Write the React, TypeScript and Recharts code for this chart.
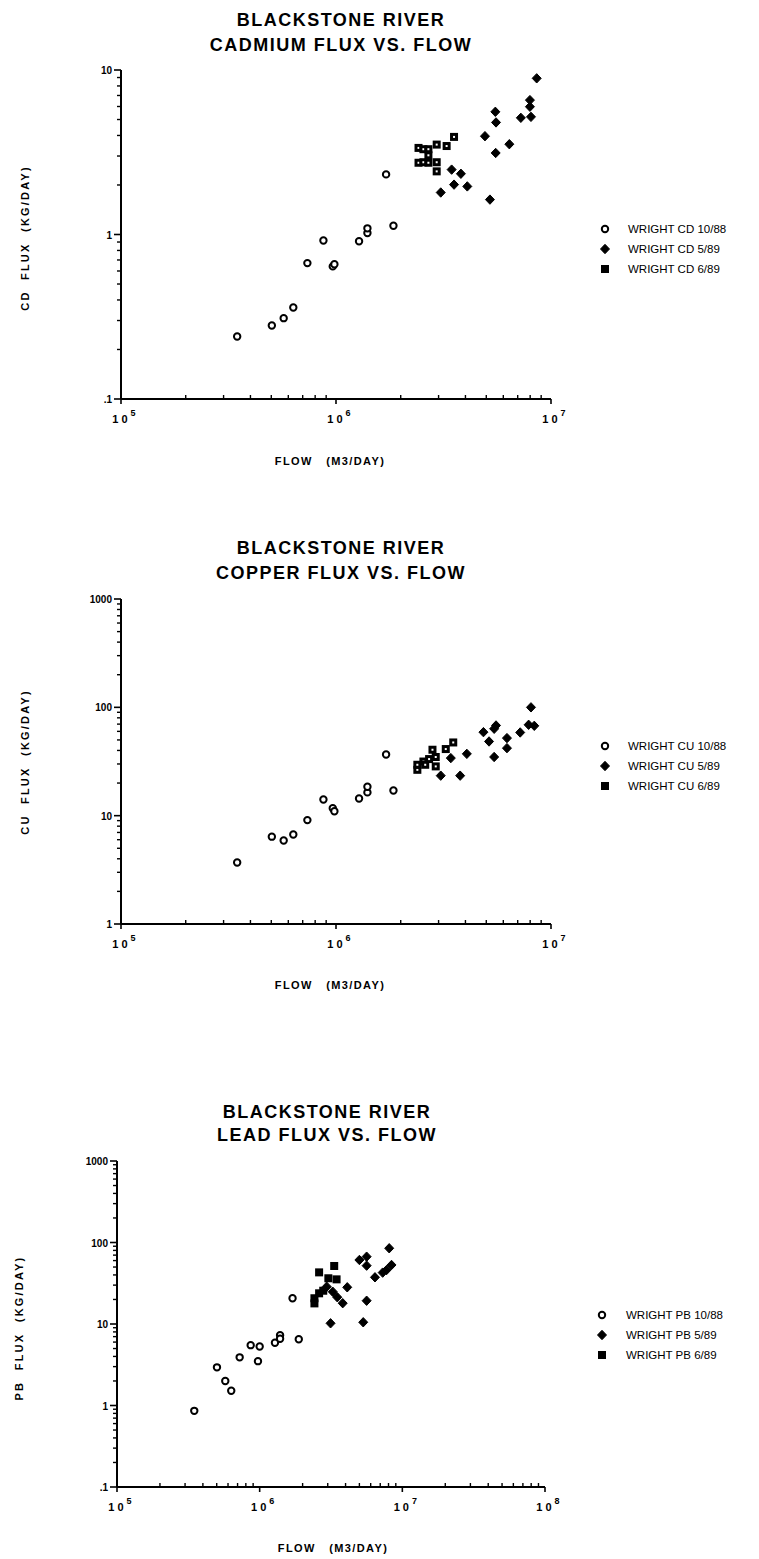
import React from 'react';
import { ScatterChart, Scatter, XAxis, YAxis, Legend } from 'recharts';

const FONT = '"Liberation Sans", Arial, Helvetica, sans-serif';

// ---- Cadmium flux (kg/day) vs. flow (m3/day) ----
const CD_FLOW_1088 = [3.47e5, 5.03e5, 5.71e5, 6.33e5, 7.36e5, 8.74e5, 9.66e5, 9.83e5, 1.28e6, 1.4e6, 1.4e6, 1.71e6, 1.85e6];
const CD_FLUX_1088 = [0.24, 0.28, 0.31, 0.36, 0.67, 0.92, 0.64, 0.66, 0.91, 1.02, 1.09, 2.32, 1.13];
const CD_FLOW_589 = [3.07e6, 3.45e6, 3.54e6, 3.81e6, 4.08e6, 4.93e6, 5.2e6, 5.51e6, 5.53e6, 5.55e6, 6.4e6, 7.24e6, 7.98e6, 7.98e6, 8.07e6, 8.58e6];
const CD_FLUX_589 = [1.8, 2.48, 2.01, 2.34, 1.96, 3.96, 1.63, 5.57, 3.13, 4.8, 3.54, 5.12, 6.56, 5.98, 5.19, 8.9];
const CD_FLOW_689 = [2.42e6, 2.42e6, 2.55e6, 2.55e6, 2.69e6, 2.69e6, 2.69e6, 2.94e6, 2.94e6, 2.94e6, 3.27e6, 3.54e6];
const CD_FLUX_689 = [3.36, 2.73, 3.3, 2.75, 3.3, 3.03, 2.73, 3.52, 2.75, 2.42, 3.45, 3.92];

// ---- Copper ----
const CU_FLOW_1088 = [3.47e5, 5.03e5, 5.71e5, 6.33e5, 7.36e5, 8.74e5, 9.66e5, 9.83e5, 1.28e6, 1.4e6, 1.4e6, 1.71e6, 1.85e6];
const CU_FLUX_1088 = [3.7, 6.4, 5.9, 6.7, 9.1, 14.1, 11.7, 11.0, 14.4, 16.4, 18.5, 36.7, 17.1];
const CU_FLOW_589 = [3.07e6, 3.42e6, 3.78e6, 4.06e6, 4.85e6, 5.15e6, 5.44e6, 5.44e6, 5.55e6, 6.24e6, 6.24e6, 7.19e6, 7.87e6, 8.07e6, 8.36e6];
const CU_FLUX_589 = [23.4, 34, 23.4, 37.2, 59, 48.4, 34.8, 63.4, 68, 52, 42, 58.6, 69, 100, 67.5];
const CU_FLOW_689 = [2.39e6, 2.39e6, 2.55e6, 2.6e6, 2.71e6, 2.81e6, 2.91e6, 2.91e6, 3.24e6, 3.51e6];
const CU_FLUX_689 = [26.5, 29.5, 31.6, 29.5, 33.3, 40.6, 28.5, 34.8, 41.2, 47.4];

// ---- Lead ----
const PB_FLOW_1088 = [3.48e5, 5.02e5, 5.74e5, 6.32e5, 7.24e5, 8.65e5, 9.73e5, 1.0e6, 1.28e6, 1.39e6, 1.39e6, 1.7e6, 1.88e6];
const PB_FLUX_1088 = [0.86, 2.94, 2.0, 1.52, 3.9, 5.5, 3.5, 5.3, 5.9, 7.3, 6.6, 20.7, 6.5];
const PB_FLOW_589 = [2.95e6, 3.14e6, 3.25e6, 3.5e6, 3.82e6, 4.11e6, 5.0e6, 5.32e6, 5.62e6, 5.62e6, 5.62e6, 6.43e6, 7.28e6, 7.76e6, 8.09e6, 8.4e6];
const PB_FLUX_589 = [28.7, 10.2, 24.9, 21.3, 18, 28.2, 61, 10.5, 67, 52, 19.3, 37.4, 42.7, 46, 85, 53];
const PB_FLOW_689 = [2.42e6, 2.42e6, 2.61e6, 2.61e6, 2.79e6, 3.03e6, 3.33e6, 3.46e6];
const PB_FLUX_689 = [20.7, 17.9, 43, 23.8, 25.6, 36.4, 51.5, 35.3];

// Axis tick labels (one per decade, lowest first)
const CD_Y_LABELS = ['.1', '1', '10'];
const CU_Y_LABELS = ['1', '10', '100', '1000'];
const PB_Y_LABELS = ['.1', '1', '10', '100', '1000'];
const X_EXPONENTS_2 = ['5', '6', '7'];
const X_EXPONENTS_3 = ['5', '6', '7', '8'];

type ShapeKind = 'circle' | 'diamond' | 'square';

interface SeriesDef {
  name: string;
  flow: number[];
  flux: number[];
  kind: ShapeKind;
}

// log-decade ticks: every integer multiple inside each decade
function logTicks(lo: number, hi: number): number[] {
  const out: number[] = [];
  for (let d = lo; d < hi; d++) {
    for (let m = 1; m <= 9; m++) out.push(+(m * Math.pow(10, d)).toPrecision(6));
  }
  out.push(Math.pow(10, hi));
  return out;
}

function isDecade(v: number): boolean {
  const l = Math.log10(v);
  return Math.abs(l - Math.round(l)) < 1e-6;
}

function Marker({ kind, cx, cy, hollowSquare }: { kind: ShapeKind; cx: number; cy: number; hollowSquare?: boolean }) {
  if (cx == null || cy == null || isNaN(cx) || isNaN(cy)) return null;
  if (kind === 'circle') {
    return <circle cx={cx} cy={cy} r={3.2} fill="#fff" stroke="#000" strokeWidth={2} />;
  }
  if (kind === 'diamond') {
    return (
      <path
        d={`M${cx},${cy - 4.7} L${cx + 4.5},${cy} L${cx},${cy + 4.7} L${cx - 4.5},${cy} Z`}
        fill="#000"
        stroke="#000"
        strokeWidth={1}
        strokeLinejoin="round"
      />
    );
  }
  return (
    <g>
      <rect x={cx - 4} y={cy - 4} width={8} height={8} fill="#000" />
      {hollowSquare ? <rect x={cx - 1} y={cy - 1} width={2} height={2} fill="#fff" /> : null}
    </g>
  );
}

function makeXTick(lo: number, exps: string[]) {
  return (props: any) => {
    const { x, y, payload } = props;
    const v = payload.value as number;
    if (!isDecade(v)) {
      return <line x1={x} x2={x} y1={y} y2={y - 4} stroke="#000" strokeWidth={1.4} />;
    }
    const idx = Math.round(Math.log10(v)) - lo;
    return (
      <g>
        <line x1={x} x2={x} y1={y} y2={y + 5} stroke="#000" strokeWidth={1.6} />
        <text x={x + 3} y={y + 24} textAnchor="middle" fontFamily={FONT} fontWeight="bold" fontSize={11} letterSpacing={3} fill="#000">
          10
          <tspan dy={-7} fontSize={9} letterSpacing={0}>
            {exps[idx]}
          </tspan>
        </text>
      </g>
    );
  };
}

function makeYTick(lo: number, labels: string[]) {
  return (props: any) => {
    const { x, y, payload } = props;
    const v = payload.value as number;
    if (!isDecade(v)) {
      return <line x1={x - 4} x2={x} y1={y} y2={y} stroke="#000" strokeWidth={1.4} />;
    }
    const idx = Math.round(Math.log10(v)) - lo;
    return (
      <g>
        <line x1={x - 7} x2={x} y1={y} y2={y} stroke="#000" strokeWidth={1.6} />
        <text x={x - 9} y={y + 4} textAnchor="end" fontFamily={FONT} fontWeight="bold" fontSize={10} fill="#000">
          {labels[idx]}
        </text>
      </g>
    );
  };
}

interface PanelProps {
  top: number;
  height: number;
  plot: { left: number; right: number; top: number; bottom: number };
  xDec: [number, number];
  yDec: [number, number];
  xExps: string[];
  yLabels: string[];
  title: string[];
  titleX: number;
  titleY: [number, number];
  yTitle: string;
  yTitlePos: [number, number];
  xTitlePos: [number, number];
  legend: { markerX: number; textX: number; rows: number[] };
  series: SeriesDef[];
  hollowSquares: boolean;
}

const AX_W = 40;
const AX_H = 40;
const W = 759;
const LEGEND_LEFT = 595;

function Panel(p: PanelProps) {
  const { plot, height } = p;
  const xDomain: [number, number] = [Math.pow(10, p.xDec[0]), Math.pow(10, p.xDec[1])];
  const yDomain: [number, number] = [Math.pow(10, p.yDec[0]), Math.pow(10, p.yDec[1])];
  const axisLine = { stroke: '#000', strokeWidth: 2 };
  const legendContent = () => (
    <svg width={170} height={p.legend.rows[2] - p.legend.rows[0] + 20} style={{ overflow: 'visible', display: 'block' }}>
      {p.series.map((s, i) => {
        const ry = p.legend.rows[i] - p.legend.rows[0] + 8;
        return (
          <g key={s.name}>
            <Marker kind={s.kind} cx={p.legend.markerX - LEGEND_LEFT} cy={ry} />
            <text x={p.legend.textX - LEGEND_LEFT} y={ry + 4} fontFamily={FONT} fontSize={11.5} fill="#000">
              {s.name}
            </text>
          </g>
        );
      })}
    </svg>
  );
  return (
    <div style={{ position: 'absolute', left: 0, top: p.top, width: W, height }}>
      <ScatterChart
        width={W}
        height={height}
        margin={{ top: plot.top, right: W - plot.right, bottom: height - plot.bottom - AX_H, left: plot.left - AX_W }}
      >
        <XAxis
          xAxisId={0}
          dataKey="x"
          type="number"
          scale="log"
          domain={xDomain}
          allowDataOverflow
          ticks={logTicks(p.xDec[0], p.xDec[1])}
          interval={0}
          tickSize={0}
          tickMargin={0}
          tickLine={false}
          tick={makeXTick(p.xDec[0], p.xExps)}
          height={AX_H}
          axisLine={axisLine}
        />
        <YAxis
          yAxisId={0}
          dataKey="y"
          type="number"
          scale="log"
          domain={yDomain}
          allowDataOverflow
          ticks={logTicks(p.yDec[0], p.yDec[1])}
          interval={0}
          tickSize={0}
          tickMargin={0}
          tickLine={false}
          tick={makeYTick(p.yDec[0], p.yLabels)}
          width={AX_W}
          axisLine={axisLine}
        />
        <XAxis xAxisId="frameTop" orientation="top" type="number" domain={[0, 1]} height={0} tick={false} tickLine={false} axisLine={axisLine} />
        <YAxis yAxisId="frameRight" orientation="right" type="number" domain={[0, 1]} width={0} tick={false} tickLine={false} axisLine={{ stroke: '#000', strokeWidth: 1.6 }} />
        {p.series.map((s) => (
          <Scatter
            key={s.name}
            name={s.name}
            xAxisId={0}
            yAxisId={0}
            data={s.flow.map((f, i) => ({ x: f, y: s.flux[i] }))}
            isAnimationActive={false}
            shape={(sp: any) => <Marker kind={s.kind} cx={sp.cx} cy={sp.cy} hollowSquare={p.hollowSquares} />}
          />
        ))}
        <Legend
          layout="vertical"
          align="center"
          verticalAlign="middle"
          wrapperStyle={{ position: 'absolute', left: LEGEND_LEFT, top: p.legend.rows[0] - 8, width: 170 }}
          content={legendContent}
        />
      </ScatterChart>
      {p.title.map((t, i) => (
        <div
          key={t}
          style={{
            position: 'absolute',
            left: p.titleX,
            top: p.titleY[i],
            transform: 'translate(-50%, -50%)',
            whiteSpace: 'nowrap',
            fontFamily: FONT,
            fontWeight: 'bold',
            fontSize: 18,
            letterSpacing: 1.5,
            color: '#000',
          }}
        >
          {t}
        </div>
      ))}
      <div
        style={{
          position: 'absolute',
          left: p.yTitlePos[0],
          top: p.yTitlePos[1],
          transform: 'translate(-50%, -50%) rotate(-90deg)',
          whiteSpace: 'pre',
          fontFamily: FONT,
          fontWeight: 'bold',
          fontSize: 11,
          letterSpacing: 2.2,
          color: '#000',
        }}
      >
        {p.yTitle}
      </div>
      <div
        style={{
          position: 'absolute',
          left: p.xTitlePos[0],
          top: p.xTitlePos[1],
          transform: 'translate(-50%, -50%)',
          whiteSpace: 'pre',
          fontFamily: FONT,
          fontWeight: 'bold',
          fontSize: 11,
          letterSpacing: 1.4,
          color: '#000',
        }}
      >
        {'FLOW   (M3/DAY)'}
      </div>
    </div>
  );
}

export default function App() {
  return (
    <div style={{ position: 'absolute', left: 0, top: 0, width: W, height: 1559, background: '#fff', overflow: 'hidden' }}>
      <Panel
        top={0}
        height={500}
        plot={{ left: 121, right: 551, top: 70, bottom: 399 }}
        xDec={[5, 7]}
        yDec={[-1, 1]}
        xExps={X_EXPONENTS_2}
        yLabels={CD_Y_LABELS}
        title={['BLACKSTONE RIVER', 'CADMIUM FLUX VS. FLOW']}
        titleX={341}
        titleY={[20, 45]}
        yTitle={'CD  FLUX  (KG/DAY)'}
        yTitlePos={[25, 238]}
        xTitlePos={[330, 461]}
        legend={{ markerX: 605, textX: 628, rows: [229, 249, 269] }}
        hollowSquares
        series={[
          { name: 'WRIGHT CD 10/88', flow: CD_FLOW_1088, flux: CD_FLUX_1088, kind: 'circle' },
          { name: 'WRIGHT CD 5/89', flow: CD_FLOW_589, flux: CD_FLUX_589, kind: 'diamond' },
          { name: 'WRIGHT CD 6/89', flow: CD_FLOW_689, flux: CD_FLUX_689, kind: 'square' },
        ]}
      />
      <Panel
        top={500}
        height={540}
        plot={{ left: 121, right: 551, top: 99, bottom: 424 }}
        xDec={[5, 7]}
        yDec={[0, 3]}
        xExps={X_EXPONENTS_2}
        yLabels={CU_Y_LABELS}
        title={['BLACKSTONE RIVER', 'COPPER FLUX VS. FLOW']}
        titleX={341}
        titleY={[48, 73]}
        yTitle={'CU  FLUX  (KG/DAY)'}
        yTitlePos={[25, 262]}
        xTitlePos={[330, 485]}
        legend={{ markerX: 605, textX: 628, rows: [246, 266, 286] }}
        hollowSquares
        series={[
          { name: 'WRIGHT CU 10/88', flow: CU_FLOW_1088, flux: CU_FLUX_1088, kind: 'circle' },
          { name: 'WRIGHT CU 5/89', flow: CU_FLOW_589, flux: CU_FLUX_589, kind: 'diamond' },
          { name: 'WRIGHT CU 6/89', flow: CU_FLOW_689, flux: CU_FLUX_689, kind: 'square' },
        ]}
      />
      <Panel
        top={1040}
        height={519}
        plot={{ left: 117, right: 545, top: 121, bottom: 447 }}
        xDec={[5, 8]}
        yDec={[-1, 3]}
        xExps={X_EXPONENTS_3}
        yLabels={PB_Y_LABELS}
        title={['BLACKSTONE RIVER', 'LEAD FLUX VS. FLOW']}
        titleX={327}
        titleY={[72, 95]}
        yTitle={'PB  FLUX  (KG/DAY)'}
        yTitlePos={[19, 288]}
        xTitlePos={[333, 508]}
        legend={{ markerX: 602, textX: 626, rows: [275, 295, 315] }}
        hollowSquares={false}
        series={[
          { name: 'WRIGHT PB 10/88', flow: PB_FLOW_1088, flux: PB_FLUX_1088, kind: 'circle' },
          { name: 'WRIGHT PB 5/89', flow: PB_FLOW_589, flux: PB_FLUX_589, kind: 'diamond' },
          { name: 'WRIGHT PB 6/89', flow: PB_FLOW_689, flux: PB_FLUX_689, kind: 'square' },
        ]}
      />
    </div>
  );
}
